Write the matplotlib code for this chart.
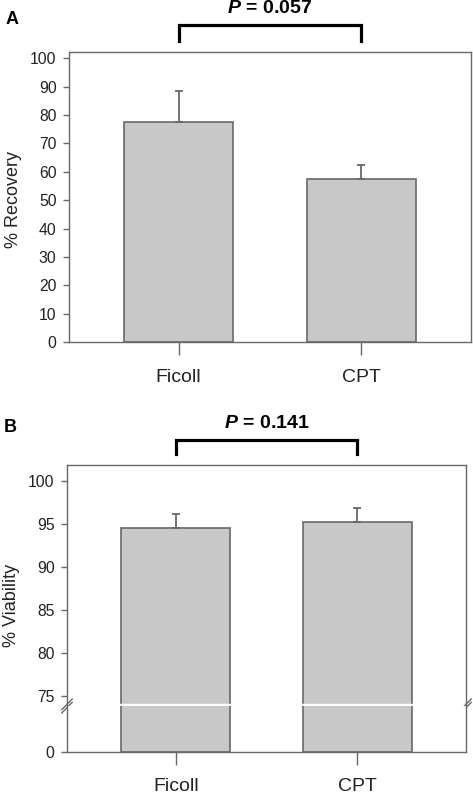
import matplotlib
matplotlib.use("Agg")
import matplotlib.pyplot as plt

plt.rcParams['font.family'] = ['Liberation Sans', 'DejaVu Sans']
plt.rcParams['mathtext.fontset'] = 'custom'
plt.rcParams['mathtext.it'] = 'Liberation Sans:bold:italic'
plt.rcParams['mathtext.rm'] = 'Liberation Sans:bold'

# data
groups = ['Ficoll', 'CPT']
recovery = [77.7, 57.4]
recovery_err = [10.6, 4.9]
viability = [94.5, 95.3]
viability_err = [1.65, 1.6]
p_recovery = '0.057'
p_viability = '0.141'

bar_fc = '#c8c8c8'
edge = '#686868'
txt = '#222222'
W, H = 473, 795

fig = plt.figure(figsize=(W / 100, H / 100), dpi=100)

def px(x0, y0, x1, y1):
    # pixel box -> figure rect
    return [x0 / W, 1 - y1 / H, (x1 - x0) / W, (y1 - y0) / H]

def style(ax):
    for s in ax.spines.values():
        s.set_color(edge)
        s.set_linewidth(1.0)
    ax.tick_params(axis='y', direction='out', length=4, width=1, color=edge,
                   labelsize=11.3, labelcolor=txt, pad=5)
    ax.tick_params(axis='x', direction='out', length=9, width=1, color=edge,
                   labelsize=14, labelcolor=txt, pad=10)

xs = list(range(len(groups)))

# ---- panel A ----
axA = fig.add_axes(px(69, 52, 471, 342.3))
axA.bar(xs, recovery, width=0.6, color=bar_fc, edgecolor=edge, linewidth=1.2, zorder=2)
axA.errorbar(xs, recovery, yerr=[[0, 0], recovery_err], fmt='none', ecolor=edge,
             elinewidth=1.3, capsize=3.2, capthick=1.3, zorder=3)
axA.set_xlim(-0.6, 1.6)
axA.set_ylim(0, 102.2)
axA.set_yticks(range(0, 101, 10))
axA.set_xticks(xs)
axA.set_xticklabels(groups)
style(axA)
axA.plot([0, 0, 1, 1], [106.1, 111.7, 111.7, 106.1], color='black', lw=2.3,
         clip_on=False, solid_joinstyle='miter')
axA.text(0.5, 115.8, r'$\mathit{P}$ = ' + p_recovery, ha='center', va='baseline',
         fontsize=14, fontweight='bold', color='black')
fig.text(12 / W, 1 - 19 / H, 'A', fontsize=13, fontweight='bold', ha='center', va='center')
fig.text(13 / W, 1 - 200 / H, '% Recovery', fontsize=13, rotation=90, ha='center',
         va='center', color=txt)

# ---- panel B (broken axis) ----
brk = 706
axB = fig.add_axes(px(67, 465, 466, brk))
axB0 = fig.add_axes(px(67, brk, 466, 752), sharex=axB)
for ax in (axB, axB0):
    ax.bar(xs, viability, width=0.6, color=bar_fc, edgecolor=edge, linewidth=1.2, zorder=2)
    style(ax)
axB.errorbar(xs, viability, yerr=[[0, 0], viability_err], fmt='none', ecolor=edge,
             elinewidth=1.3, capsize=3.2, capthick=1.3, zorder=3)
axB.set_xlim(-0.6, 1.6)
axB.set_ylim(73.8, 101.9)
axB.set_yticks([75, 80, 85, 90, 95, 100])
axB.spines['bottom'].set_visible(False)
axB.tick_params(axis='x', bottom=False, labelbottom=False)
axB0.set_ylim(0, 5.35)
axB0.set_yticks([0])
axB0.spines['top'].set_visible(False)
axB0.set_xticks(xs)
axB0.set_xticklabels(groups)

# white gap across bars at the break
for x in xs:
    axB.plot([x - 0.31, x + 0.31], [73.8, 73.8], color='white', lw=3.2,
             clip_on=False, zorder=6, solid_capstyle='butt')
# break marks
for xa in (0, 1):
    for dy in (-0.007, 0.007):
        axB.plot([xa - 0.013, xa + 0.013], [dy - 0.022, dy + 0.022], color=edge, lw=1.0,
                 transform=axB.transAxes, clip_on=False, zorder=7)

axB.plot([0, 0, 1, 1], [103.2, 104.8, 104.8, 103.2], color='black', lw=2.3,
         clip_on=False, solid_joinstyle='miter')
axB.text(0.5, 106.2, r'$\mathit{P}$ = ' + p_viability, ha='center', va='baseline',
         fontsize=14, fontweight='bold', color='black')
fig.text(10 / W, 1 - 427 / H, 'B', fontsize=13, fontweight='bold', ha='center', va='center')
fig.text(12 / W, 1 - 605 / H, '% Viability', fontsize=13, rotation=90, ha='center',
         va='center', color=txt)

fig.savefig('out.png', dpi=100)
